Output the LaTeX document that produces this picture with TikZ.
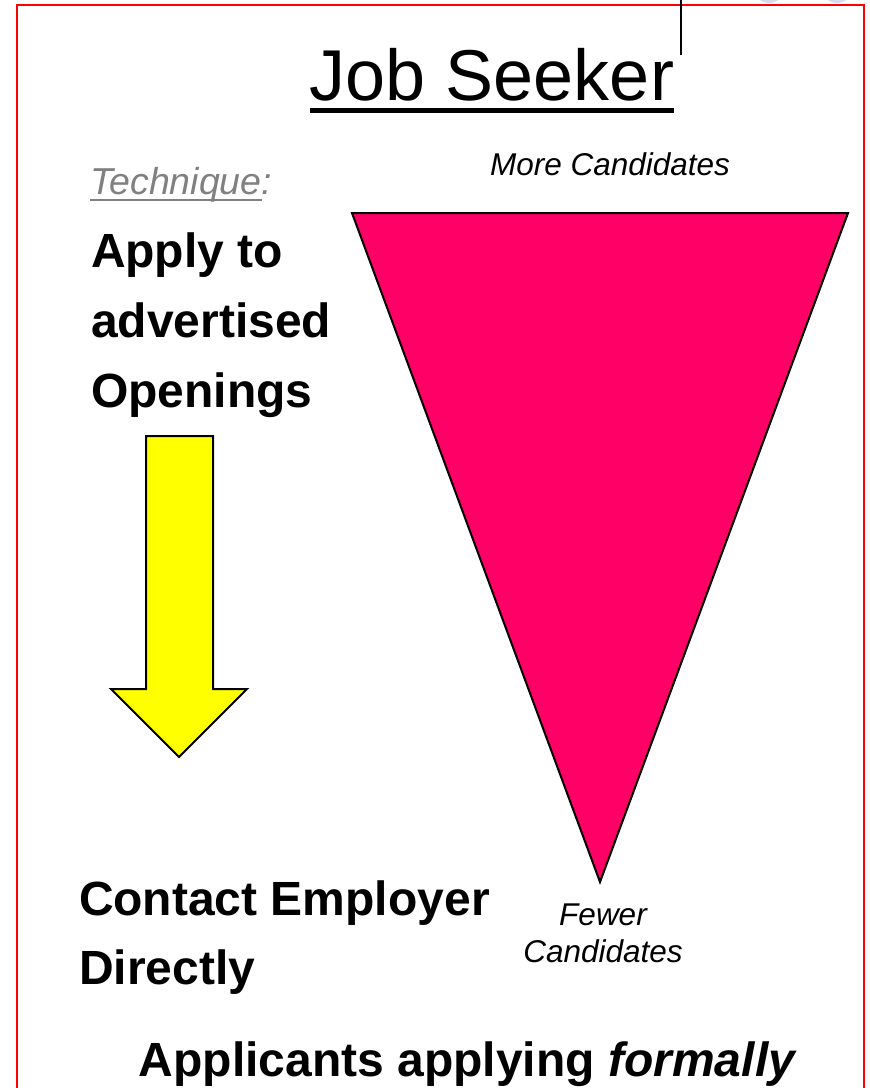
\documentclass[tikz,border=0pt]{standalone}
\usepackage{fontspec}
\setmainfont{Liberation Sans}
\definecolor{borderred}{HTML}{FF0000}
\definecolor{funnelpink}{HTML}{FF0066}
\definecolor{arrowyellow}{HTML}{FFFF00}
\definecolor{techgray}{HTML}{808080}
\definecolor{lavender}{HTML}{D9D9EE}
\begin{document}
\begin{tikzpicture}[x=1pt,y=-1pt,
  txt/.style={inner sep=0pt, outer sep=0pt},
  bigbold/.style={txt, anchor=base west, font=\fontsize{48}{58}\selectfont\bfseries},
  smallital/.style={txt, anchor=base, font=\fontsize{31.5}{37}\selectfont\itshape},
  techfont/.style={txt, anchor=base west, text=techgray, font=\fontsize{37.5}{45}\selectfont\itshape},
  shapeline/.style={draw=black, line width=2pt, line join=miter}]
\useasboundingbox (0,0) rectangle (870,1088);
\clip (0,0) rectangle (870,1088);
% partial circles at the top edge
\fill[lavender] (769,-12) circle (15);
\fill[lavender] (837,-12) circle (15);
% red frame
\draw[borderred, line width=2.5pt] (17,1100) -- (17,5) -- (864,5) -- (864,1100);
% vertical line at top
\coordinate (vtop) at (681,0);
\coordinate (vbot) at (681,55);
\draw[black, line width=2pt] (vtop) -- (vbot);
% title
\node[txt, anchor=base, font=\fontsize{72}{86}\selectfont] (title) at (492,100) {Job Seeker};
\draw[line width=5pt] ([yshift=-10pt]title.base west) -- ([yshift=-10pt]title.base east);
% technique
\node[techfont] (tech) at (90,194) {Technique};
\node[techfont] (colon) at (tech.base east) {:};
\draw[techgray, line width=2.5pt] ([yshift=-6pt]tech.base west) -- ([yshift=-6pt]tech.base east);
% left texts
\node[bigbold] (apply1) at (91,267) {Apply to};
\node[bigbold] (apply2) at (91,337) {advertised};
\node[bigbold] (apply3) at (91,407) {Openings};
\node[bigbold] (contact1) at (79,915) {Contact Employer};
\node[bigbold] (contact2) at (79,984) {Directly};
\node[txt, anchor=base, font=\fontsize{48}{58}\selectfont\bfseries] (applicants) at (468,1076) {Applicants applying \textit{formally}};
% funnel
\coordinate (ftl) at (352,213);
\coordinate (ftr) at (848,213);
\coordinate (fbot) at (600,882);
\draw[shapeline, fill=funnelpink] (ftl) -- (ftr) -- (fbot) -- cycle;
\node[smallital] (more) at (610,175) {More Candidates};
\node[smallital] (fewer1) at (603,925) {Fewer};
\node[smallital] (fewer2) at (603,962) {Candidates};
% yellow arrow
\draw[shapeline, fill=arrowyellow] (146,436) -- (213,436) -- (213,689) -- (247,689) -- (179,757) -- (111,689) -- (146,689) -- cycle;
\end{tikzpicture}
\end{document}
